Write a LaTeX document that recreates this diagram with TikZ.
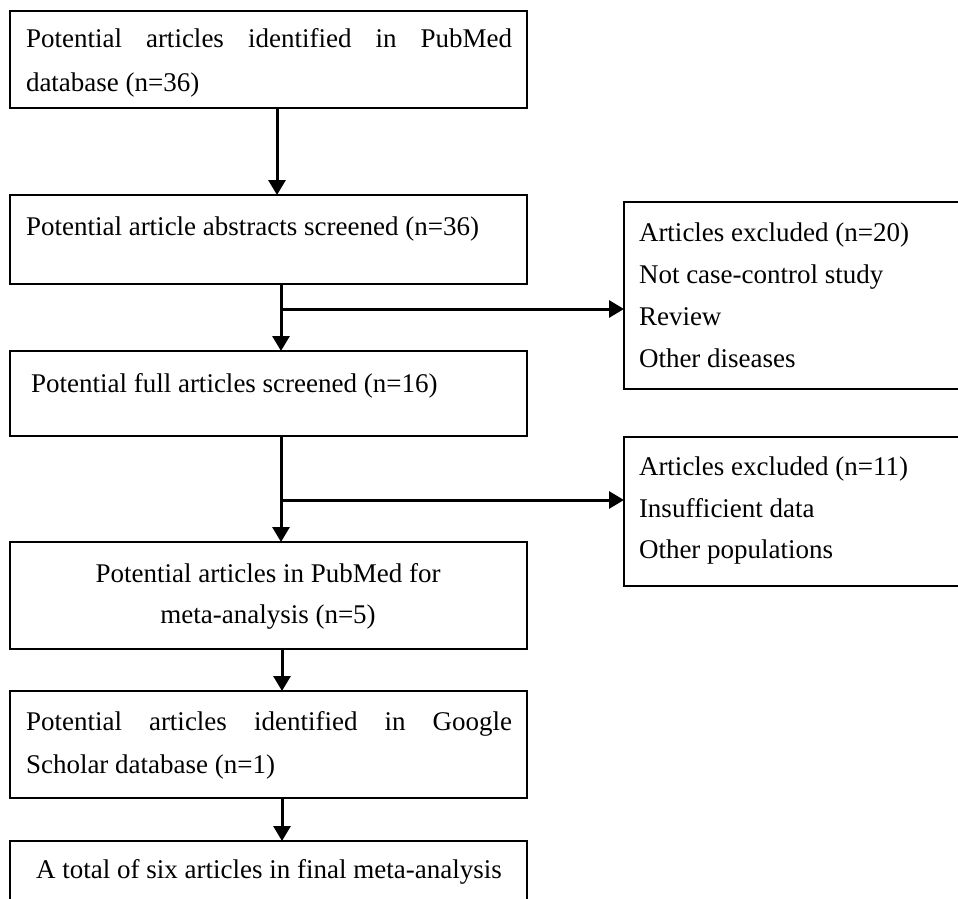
\documentclass[tikz,border=0pt]{standalone}
\usepackage{fontspec}
\setmainfont{Liberation Serif}
\usetikzlibrary{arrows.meta}
\begin{document}
\begin{tikzpicture}[x=1pt,y=-1pt,
  box/.style={draw=black, line width=2pt, rectangle, inner sep=0pt, outer sep=0pt, anchor=north west, minimum width=517pt},
  rbox/.style={box, minimum width=380pt},
  txt/.style={inner sep=0pt, outer sep=0pt, font=\fontsize{27}{32}\selectfont, anchor=base west},
  ctxt/.style={txt, anchor=base},
  arr/.style={line width=3pt, -{Triangle[width=17pt,length=15pt]}}]
\useasboundingbox (0,0) rectangle (958,899);
\fill[white] (0,0) rectangle (958,899);
% boxes
\node[box, minimum height=97pt]  (b1) at (10,11)  {};
\node[box, minimum height=89pt]  (b2) at (10,195) {};
\node[box, minimum height=85pt]  (b3) at (10,351) {};
\node[box, minimum height=107pt] (b4) at (10,542) {};
\node[box, minimum height=107pt] (b5) at (10,691) {};
\node[box, minimum height=80pt]  (b6) at (10,841) {};
\node[rbox, minimum height=187pt] (r1) at (624,202) {};
\node[rbox, minimum height=149pt] (r2) at (624,437) {};
% texts
\node[txt] (t1a) at (26,48) {\makebox[486pt][s]{Potential articles identified in PubMed}};
\node[txt] (t1b) at (26,92) {database (n=36)};
\node[txt] (t2) at (26,235) {Potential article abstracts screened (n=36)};
\node[txt] (t3) at (31,392) {Potential full articles screened (n=16)};
\node[ctxt] (t4a) at (268,582) {Potential articles in PubMed for};
\node[ctxt] (t4b) at (268,623) {meta-analysis (n=5)};
\node[txt] (t5a) at (26,730) {\makebox[486pt][s]{Potential articles identified in Google}};
\node[txt] (t5b) at (26,773) {Scholar database (n=1)};
\node[ctxt] (t6) at (269,878) {A total of six articles in final meta-analysis};
\node[txt] (r1a) at (639,241) {Articles excluded (n=20)};
\node[txt] (r1b) at (639,283) {Not case-control study};
\node[txt] (r1c) at (639,325) {Review};
\node[txt] (r1d) at (639,367) {Other diseases};
\node[txt] (r2a) at (639,475) {Articles excluded (n=11)};
\node[txt] (r2b) at (639,517) {Insufficient data};
\node[txt] (r2c) at (639,558) {Other populations};
% connectors
\draw[arr] ([xshift=8.5pt]b1.south) -- ([xshift=8.5pt]b2.north);
\coordinate (j1) at (281,309);
\draw[arr] (b2.south -| j1) -- (b3.north -| j1);
\draw[arr] (j1) -- (j1 -| r1.west);
\coordinate (j2) at (281,500);
\draw[arr] (b3.south -| j2) -- (b4.north -| j2);
\draw[arr] (j2) -- (j2 -| r2.west);
\coordinate (c3) at (282,0);
\draw[arr] (b4.south -| c3) -- (b5.north -| c3);
\draw[arr] (b5.south -| c3) -- (b6.north -| c3);
\end{tikzpicture}
\end{document}
